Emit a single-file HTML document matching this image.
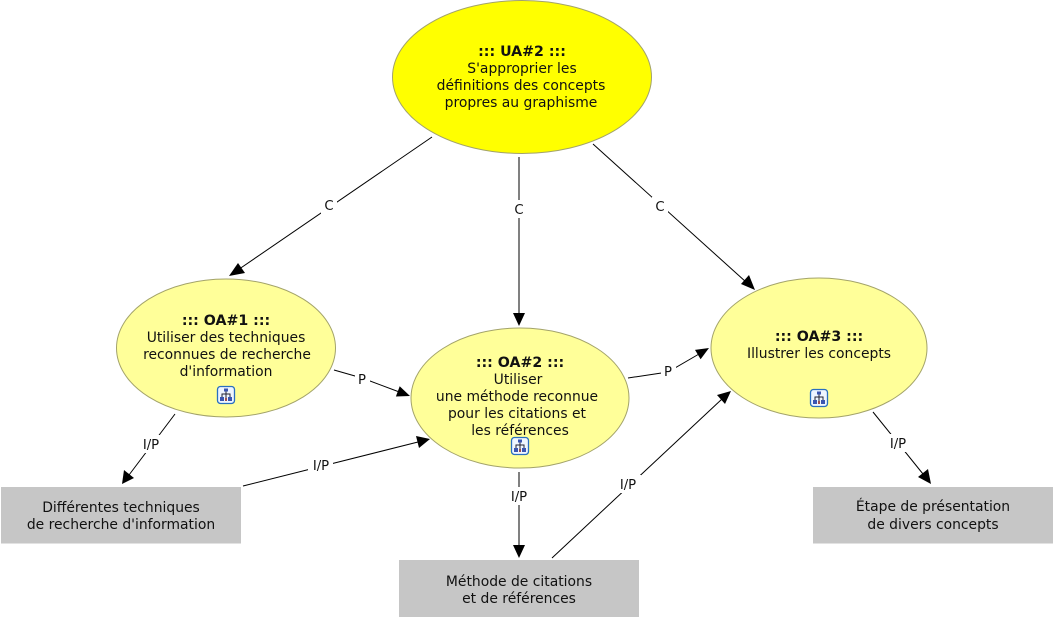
<!DOCTYPE html>
<html><head><meta charset="utf-8"><style>
html,body{margin:0;padding:0;background:#fff;width:1055px;height:620px;overflow:hidden}
svg{display:block}
text{font-family:"DejaVu Sans","Liberation Sans",sans-serif;font-size:13.9px;fill:#111;text-anchor:middle}
.b{font-weight:bold;font-size:14.2px}
.l{font-size:13.2px}
.e{stroke:#a3a36a;stroke-width:1}
.c{stroke:#000;stroke-width:1;fill:none}
</style></head><body>
<svg width="1055" height="620" viewBox="0 0 1055 620" xmlns="http://www.w3.org/2000/svg">
<defs>
<g id="ic">
<rect x="-8.500" y="-8.500" width="17" height="17" rx="3" fill="#eef5ff" stroke="#2a6fc0" stroke-width="1.300"/>
<path d="M0-5V3M-4 3V-1H4V3" stroke="#223" fill="none" stroke-width="1"/>
<rect x="-2" y="-6.500" width="4" height="3" fill="#3a55b0"/>
<rect x="-6" y="2" width="4" height="4" fill="#3a55b0"/>
<rect x="2" y="2" width="4" height="4" fill="#3a55b0"/>
<rect x="-1" y="3" width="2" height="3" fill="#a05050"/>
</g>
</defs>
<rect width="1055" height="620" fill="#fff"/>

<path class="c" d="M432 137L240 268.500M519 157V314M593 144L746 282M334 370L362 378L398 391.500M628 378L668 372L699 354M175 414L129 475M243 486L418 442M519 472V546M552 558L722 399M873 412L923 474"/>
<polygon points="229,276 238,263 245,273"/>
<polygon points="519,326 513,313 525,313"/>
<polygon points="755,290 741,284 749,275"/>
<polygon points="410,396 395.900,396.500 399.700,386.300"/>
<polygon points="709,348 700.600,359.300 695,349.900"/>
<polygon points="122,484 124,470 134,478"/>
<polygon points="430,439 419,448 416,436"/>
<polygon points="519,558 513,545 525,545"/>
<polygon points="731,391 725,404 717,395"/>
<polygon points="931,484 918,477 928,469"/>

<g fill="#fff">
<rect x="321" y="196" width="16" height="18"/>
<rect x="511" y="200" width="16" height="18"/>
<rect x="652" y="197" width="16" height="18"/>
<rect x="355" y="370" width="15" height="18"/>
<rect x="661" y="362" width="15" height="18"/>
<rect x="138" y="435" width="25" height="18"/>
<rect x="308" y="456" width="25" height="18"/>
<rect x="507" y="487" width="25" height="18"/>
<rect x="616" y="475" width="25" height="18"/>
<rect x="886" y="434" width="25" height="18"/>
</g>

<ellipse class="e" cx="522" cy="77" rx="129.500" ry="76.500" fill="#ffff00"/>
<ellipse class="e" cx="226" cy="348" rx="109.500" ry="69" fill="#ffff99"/>
<ellipse class="e" cx="520" cy="398" rx="109" ry="70" fill="#ffff99"/>
<ellipse class="e" cx="819" cy="348" rx="108" ry="70" fill="#ffff99"/>

<rect x="1" y="487" width="240" height="56.500" fill="#c6c6c6"/>
<rect x="399" y="560" width="240" height="57" fill="#c6c6c6"/>
<rect x="813" y="487" width="240" height="56.500" fill="#c6c6c6"/>

<text class="l" x="329" y="210">C</text>
<text class="l" x="519" y="214">C</text>
<text class="l" x="660" y="211">C</text>
<text class="l" x="362" y="384">P</text>
<text class="l" x="668" y="376">P</text>
<text class="l" x="151" y="449">I/P</text>
<text class="l" x="321" y="470">I/P</text>
<text class="l" x="519" y="501">I/P</text>
<text class="l" x="628" y="489">I/P</text>
<text class="l" x="898" y="448">I/P</text>

<text class="b" x="522" y="56">::: UA#2 :::</text>
<text x="522" y="73">S'approprier les</text>
<text x="521" y="90">définitions des concepts</text>
<text x="521" y="107">propres au graphisme</text>

<text class="b" x="226" y="325">::: OA#1 :::</text>
<text x="226" y="342">Utiliser des techniques</text>
<text x="227" y="359">reconnues de recherche</text>
<text x="226" y="376">d'information</text>
<use href="#ic" x="226" y="395"/>

<text class="b" x="520" y="367">::: OA#2 :::</text>
<text x="518" y="384">Utiliser</text>
<text x="517" y="401">une méthode reconnue</text>
<text x="517" y="418">pour les citations et</text>
<text x="520" y="435">les références</text>
<use href="#ic" x="520" y="446"/>

<text class="b" x="819" y="341">::: OA#3 :::</text>
<text x="819" y="358">Illustrer les concepts</text>
<use href="#ic" x="819" y="398"/>

<text x="121" y="512">Différentes techniques</text>
<text x="121" y="529">de recherche d'information</text>
<text x="519" y="586">Méthode de citations</text>
<text x="519" y="603">et de références</text>
<text x="933" y="511">Étape de présentation</text>
<text x="933" y="529">de divers concepts</text>
</svg>
</body></html>
